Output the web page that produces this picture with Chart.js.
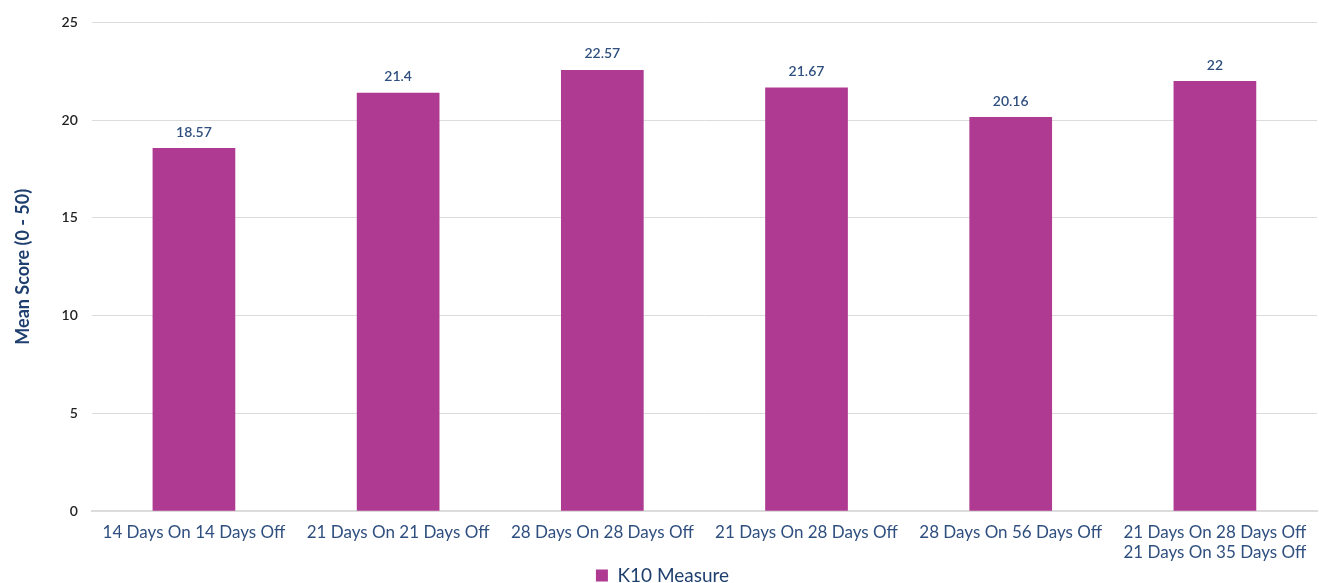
<!DOCTYPE html>
<html>
<head>
<meta charset="utf-8">
<script src="https://cdn.jsdelivr.net/npm/chart.js@4"></script>
<style>
  html, body { margin: 0; padding: 0; background: #fff; }
  #wrap { width: 1319px; height: 583px; }
</style>
</head>
<body>
<div id="wrap"><canvas id="k10Chart"></canvas></div>
<script>
const labels = [
    '14 Days On 14 Days Off',
    '21 Days On 21 Days Off',
    '28 Days On 28 Days Off',
    '21 Days On 28 Days Off',
    '28 Days On 56 Days Off',
    ['21 Days On 28 Days Off', '21 Days On 35 Days Off']
];
const k10 = [18.57, 21.4, 22.57, 21.67, 20.16, 22];
const yTicks = [0, 5, 10, 15, 20, 25];

// draws the value above each bar
const valueLabels = {
    id: 'valueLabels',
    afterDatasetsDraw(chart) {
        const ctx = chart.ctx;
        ctx.save();
        ctx.font = '600 14px Lato';
        ctx.fillStyle = '#2F4F7F';
        ctx.textAlign = 'center';
        ctx.textBaseline = 'bottom';
        chart.getDatasetMeta(0).data.forEach((bar, i) => {
            ctx.fillText(String(k10[i]), bar.x, bar.y - 9);
        });
        ctx.restore();
    }
};

const ctx = document.getElementById('k10Chart').getContext('2d');
new Chart(ctx, {
    type: 'bar',
    data: {
        labels: labels,
        datasets: [{
            label: 'K10 Measure',
            data: k10,
            backgroundColor: '#AF3A91',
            borderWidth: 0,
            barPercentage: 0.81,
            categoryPercentage: 0.5
        }]
    },
    options: {
        responsive: true,
        maintainAspectRatio: false,
        animation: false,
        layout: { padding: { top: 14, right: 2, left: 8, bottom: -12 } },
        plugins: {
            legend: {
                position: 'bottom',
                labels: {
                    boxWidth: 12,
                    boxHeight: 12,
                    padding: 0,
                    color: '#1F3F6E',
                    font: { family: 'Lato', size: 19, lineHeight: 1 }
                }
            },
            tooltip: { enabled: false }
        },
        scales: {
            y: {
                min: 0,
                max: 25,
                afterBuildTicks(axis) {
                    axis.ticks = yTicks.map(v => ({ value: v }));
                },
                title: {
                    display: true,
                    text: 'Mean Score (0 - 50)',
                    color: '#1F3F6E',
                    font: { family: 'Lato', size: 18, weight: 'bold' },
                    padding: { bottom: 14 }
                },
                ticks: {
                    color: '#222',
                    font: { family: 'Lato', size: 14, weight: '600' },
                    padding: 14
                },
                grid: { color: '#DCDCDC', drawTicks: false },
                border: { display: false }
            },
            x: {
                afterFit(axis) {
                    axis.height -= 8;
                },
                ticks: {
                    color: '#2F4F7F',
                    font: { family: 'Lato', size: 17, lineHeight: 1.2 },
                    padding: 11,
                    maxRotation: 0,
                    autoSkip: false
                },
                grid: { display: false, drawTicks: false },
                border: { color: '#DCDCDC', width: 2 }
            }
        }
    },
    plugins: [valueLabels]
});
</script>
</body>
</html>
